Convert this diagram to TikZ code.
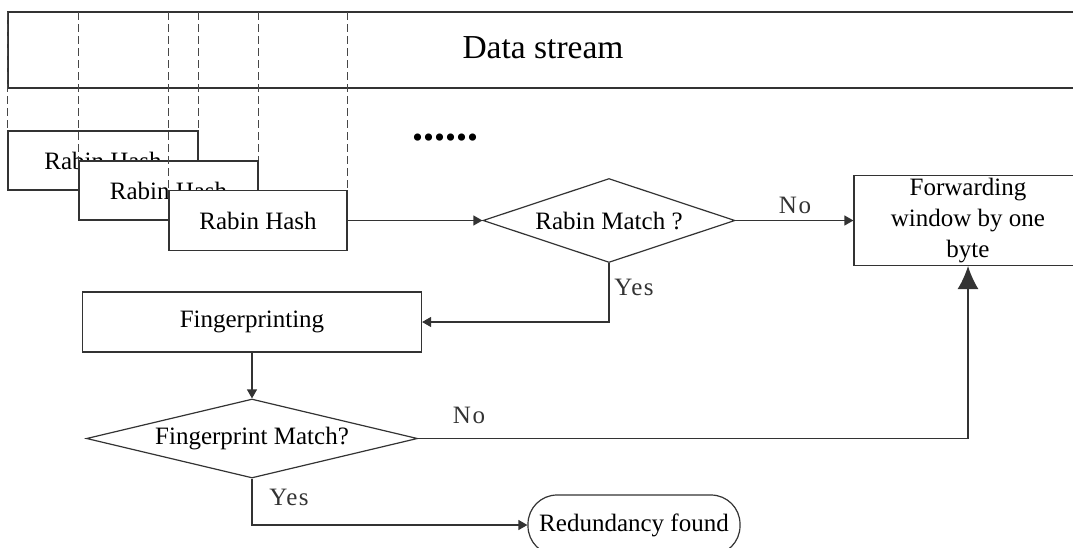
\documentclass[tikz,border=0pt]{standalone}
\usepackage{fontspec}
\setmainfont{Liberation Serif}
\usetikzlibrary{shapes.geometric,arrows.meta}
\begin{document}
\begin{tikzpicture}[x=1pt,y=-1pt,
  every node/.style={font=\fontsize{25}{31}\selectfont, inner sep=0pt},
  ln/.style={draw=black!80, line width=1.2pt},
  box/.style={ln, rectangle, fill=white},
  decision/.style={ln, diamond, fill=white},
  flow/.style={ln, -{Triangle[length=9pt,width=10pt]}},
  guide/.style={draw=black!72, line width=1.1pt, dash pattern=on 8pt off 4pt},
  answer/.style={font=\fontsize{25}{30}\selectfont\addfontfeature{LetterSpace=6}, text=black!80}
]
\path[use as bounding box] (0,0) rectangle (1073,547);
\begin{scope}
\clip (0,0) rectangle (1073,547);

% the data stream band, open to the right
\coordinate (sTop) at (8,12);
\coordinate (sBot) at (8,88);
\draw[ln] (1090,12) -- (sTop) -- (sBot) -- (1090,88);
\node (stream) at (543,48) {\fontsize{33.5}{40}\selectfont Data stream};

% sliding Rabin hash windows
\node[box, minimum width=190pt, minimum height=59pt] (h1) at (103,160.5) {Rabin Hash};
\node[box, minimum width=179pt, minimum height=59pt] (h2) at (168.5,190.5) {Rabin Hash};
\node[box, minimum width=178pt, minimum height=60pt] (h3) at (258,220.5) {Rabin Hash};
\foreach \b in {h1,h2,h3}{
  \draw[guide] (\b.north west |- sTop) -- (\b.north west);
  \draw[guide] (\b.north east |- sTop) -- (\b.north east);
}
\node[anchor=base, font=\fontsize{44}{50}\selectfont\bfseries] (more) at (445,140) {......};

% decisions and actions
\node[decision, minimum width=252pt, minimum height=84pt, aspect=3] (rm) at (609,220.5) {Rabin Match ?};
\node[box, minimum width=228pt, minimum height=90pt, align=center] (fw) at (968,220.5) {Forwarding\\window by one\\byte};
\node[box, minimum width=339pt, minimum height=60pt] (fp) at (252,322) {Fingerprinting};
\node[decision, minimum width=331pt, minimum height=79pt, aspect=4] (fm) at (252,438.5) {Fingerprint Match?};
\node[ln, rectangle, rounded corners=29pt, minimum width=212pt, minimum height=60pt] (rf) at (634,525) {Redundancy found};

% connectors
\draw[flow] (h3.east) -- (rm.west);
\draw[flow] (rm.east) -- (fw.west);
\draw[flow] (rm.south) |- (fp.east);
\draw[flow] (fp.south) -- (fm.north);
\draw[ln, -{Latex[length=23pt,width=21pt]}] (fm.east) -| (fw.south);
\draw[flow] (fm.south) |- (rf.west);

% branch labels
\node[answer] (noA) at (795,205) {No};
\node[answer] (yesA) at (634,287) {Yes};
\node[answer] (noB) at (469,415) {No};
\node[answer] (yesB) at (289,497) {Yes};
\end{scope}
\end{tikzpicture}
\end{document}
